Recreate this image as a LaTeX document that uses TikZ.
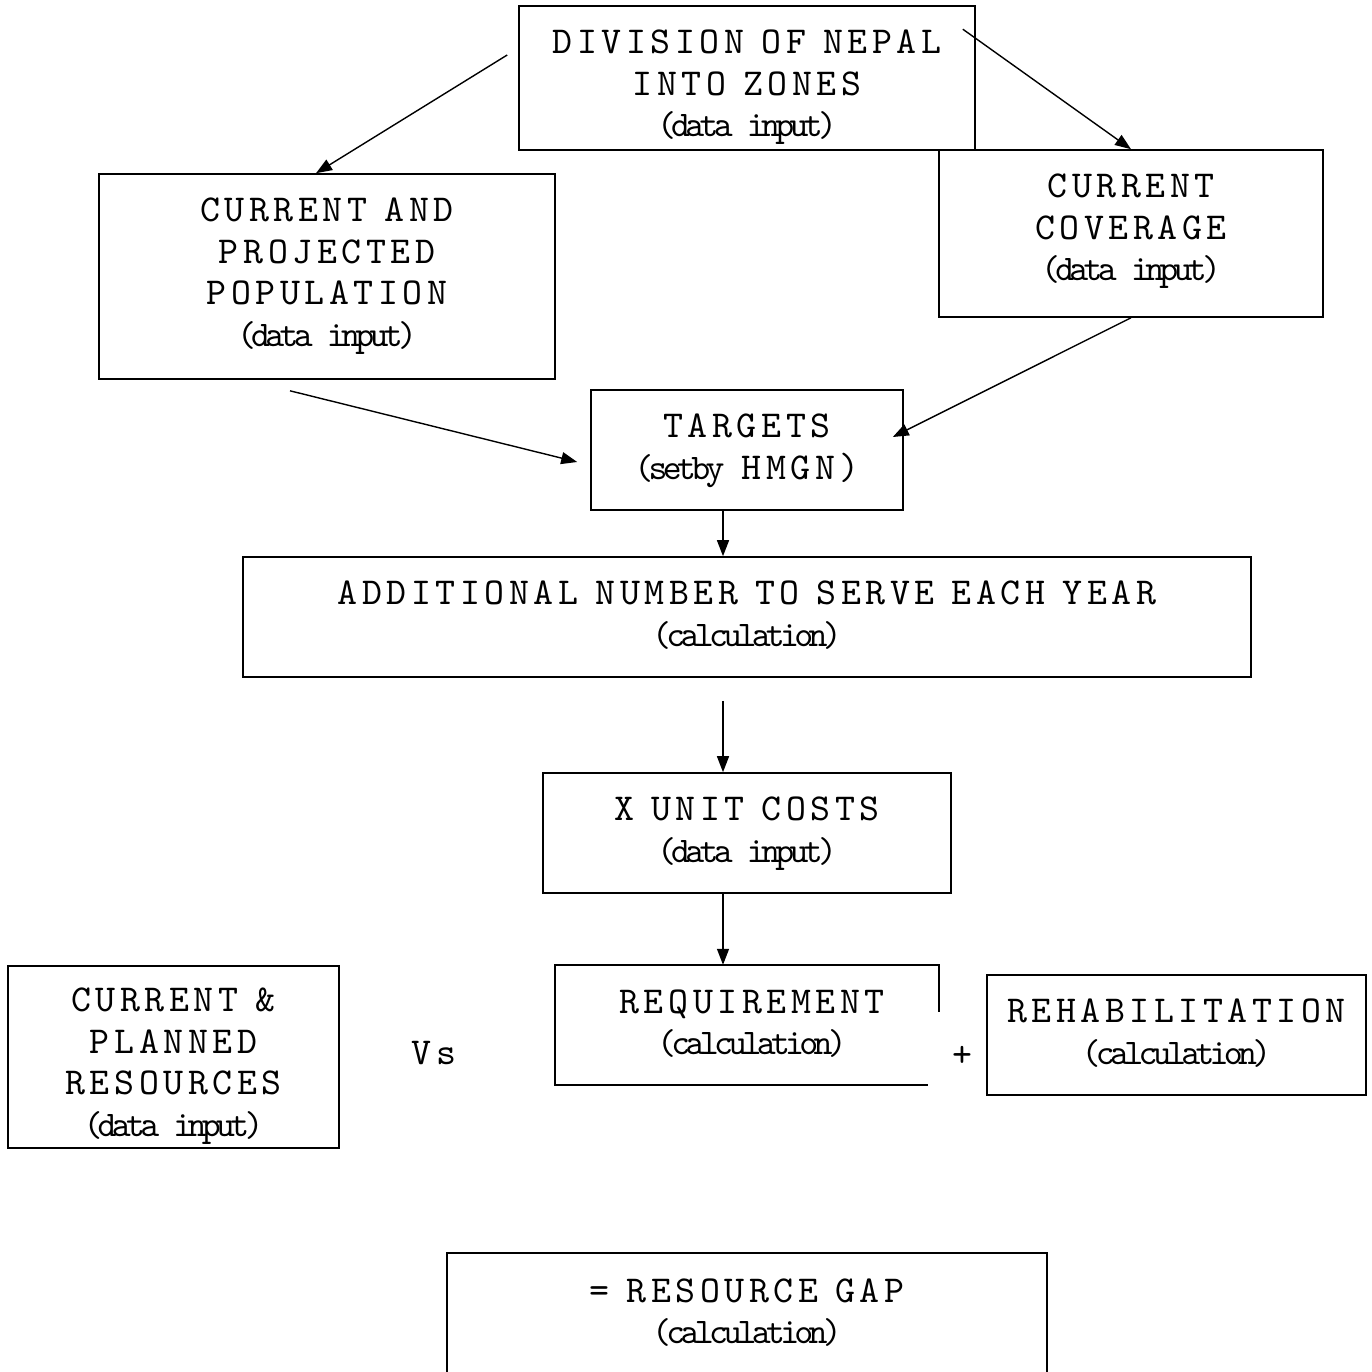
\documentclass[tikz,border=0pt]{standalone}
\usepackage{fontspec}
\usetikzlibrary{arrows.meta,calc}
\newfontfamily\capfam[LetterSpace=12,WordSpace=0.7]{lmmono10-regular.otf}
\newfontfamily\lcfam[LetterSpace=-13]{lmmono10-regular.otf}
\newcommand\lcline[1]{{\lcfam\fontsize{36}{41.5}\selectfont #1}}
\begin{document}
\begin{tikzpicture}[x=1pt,y=-1pt,
  box/.style={draw, line width=1.6pt, inner sep=0pt, rectangle},
  open/.style={inner sep=0pt, rectangle},
  outline/.style={line width=1.6pt},
  txt/.style={align=center, inner sep=0pt, anchor=north, font=\capfam\fontsize{38}{41.5}\selectfont},
  arr/.style={line width=1.4pt, -{Triangle[length=16pt,width=12pt]}}]
\useasboundingbox (0,0) rectangle (1372,1372);

% boxes
\node[box, minimum width=456pt, minimum height=144pt] (div) at (747,78) {};
\node[box, minimum width=456pt, minimum height=205pt] (pop) at (327,276.5) {};
\node[box, minimum width=384pt, minimum height=167pt] (cov) at (1131,233.5) {};
\node[box, minimum width=312pt, minimum height=120pt] (tgt) at (747,450) {};
\node[box, minimum width=1008pt, minimum height=120pt] (add) at (747,617) {};
\node[box, minimum width=408pt, minimum height=120pt] (unit) at (747,833) {};
\node[box, minimum width=331pt, minimum height=182pt] (res) at (173.5,1057) {};
\node[open, minimum width=384pt, minimum height=120pt] (req) at (747,1025) {};
\node[box, minimum width=379pt, minimum height=120pt] (reh) at (1176.5,1035) {};
\node[open, minimum width=600pt, minimum height=119pt] (gap) at (747,1312.5) {};

% partial outlines
\draw[outline] ($(req.north east)+(0,47)$) -- (req.north east) -- (req.north west) -- (req.south west) -- ($(req.south east)+(-11,0)$);
\draw[outline] (gap.south west) -- (gap.north west) -- (gap.north east) -- (gap.south east);

% texts
\node[txt] (divT) at ($(div.north)+(0,24.5)$) {DIVISION OF NEPAL\\INTO ZONES\\\lcline{(data input)}};
\node[txt] (popT) at ($(pop.north)+(0,24.5)$) {CURRENT AND\\PROJECTED\\POPULATION\\\lcline{(data input)}};
\node[txt] (covT) at ($(cov.north)+(0,24.5)$) {CURRENT\\COVERAGE\\\lcline{(data input)}};
\node[txt] (tgtT) at ($(tgt.north)+(0,24.5)$) {TARGETS\\\lcline{(setby} HMGN)};
\node[txt] (addT) at ($(add.north)+(0,24.5)$) {ADDITIONAL NUMBER TO SERVE EACH YEAR\\\lcline{(calculation)}};
\node[txt] (unitT) at ($(unit.north)+(0,24.5)$) {X UNIT COSTS\\\lcline{(data input)}};
\node[txt] (resT) at ($(res.north)+(0,22.5)$) {CURRENT \&\\PLANNED\\RESOURCES\\\lcline{(data input)}};
\node[txt] (reqT) at ($(req.north)+(5,24.5)$) {REQUIREMENT\\\lcline{(calculation)}};
\node[txt] (rehT) at ($(reh.north)+(0,24.5)$) {REHABILITATION\\\lcline{(calculation)}};
\node[txt] (gapT) at ($(gap.north)+(0,25.5)$) {= RESOURCE GAP\\\lcline{(calculation)}};
\node[txt, anchor=center] (vs) at (434,1053) {Vs};
\node[txt, anchor=center] (plus) at (962,1056) {+};

% arrows
\draw[arr] ($(div.west)+(-11,-23)$) -- ($(pop.north)+(-11,0)$);
\draw[arr] ($(div.north east)+(-13,24)$) -- (cov.north);
\draw[arr] ($(pop.south)+(-37,11)$) -- ($(tgt.west)+(-13,12)$);
\draw[arr] (cov.south) -- ($(tgt.east)+(-11,-13)$);
\draw[arr] ($(tgt.south)+(-24,0)$) -- ($(add.north)+(-24,0)$);
\draw[arr] ($(add.south)+(-24,23)$) -- ($(unit.north)+(-24,0)$);
\draw[arr] ($(unit.south)+(-24,0)$) -- ($(req.north)+(-24,0)$);
\end{tikzpicture}
\end{document}
